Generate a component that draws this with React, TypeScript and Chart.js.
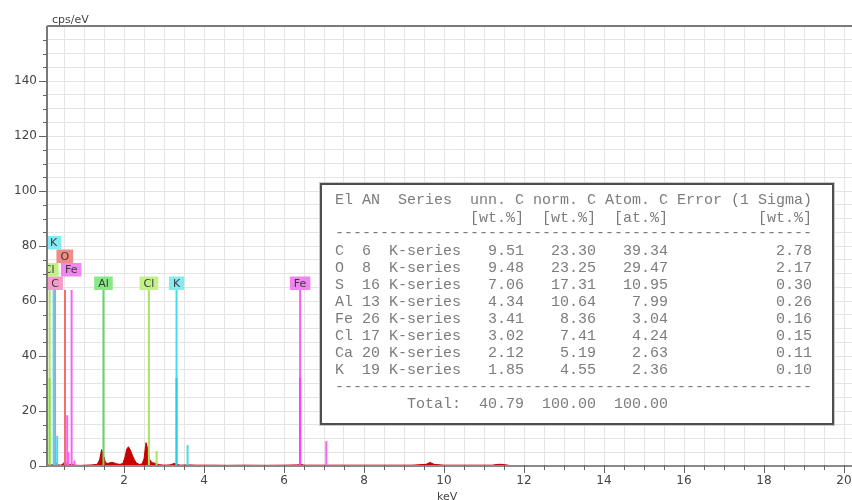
import React, { useEffect, useRef } from 'react';
import { Chart, registerables } from 'chart.js';
Chart.register(...registerables);

// ---- spectrum (keV vs cps/eV) ----
const SPEC_E = [0.075, 0.08, 0.095, 0.15, 0.22, 0.26, 0.29, 0.33, 0.42, 0.48, 0.52, 0.56, 0.62, 0.7, 0.78, 0.9, 1.05, 1.2, 1.33, 1.39, 1.44, 1.49, 1.54, 1.6, 1.66, 1.73, 1.8, 1.9, 1.97, 2.02, 2.07, 2.11, 2.16, 2.21, 2.26, 2.31, 2.38, 2.45, 2.5, 2.55, 2.6, 2.64, 2.7, 2.78, 2.88, 3.0, 3.15, 3.25, 3.31, 3.4, 3.6, 3.8, 4.2, 4.6, 5.0, 5.5, 6.0, 6.35, 6.42, 6.5, 7.0, 7.5, 8.0, 8.6, 9.2, 9.55, 9.65, 9.75, 10.0, 10.6, 11.2, 11.35, 11.45, 11.6, 11.7];
const SPEC_Y = [0, 5.2, 0.6, 0.3, 0.5, 1.2, 1.4, 0.5, 0.3, 0.8, 1.6, 0.9, 0.4, 0.7, 0.3, 0.2, 0.3, 0.4, 0.6, 2.2, 6.0, 3.6, 1.2, 0.9, 1.3, 1.3, 0.8, 0.6, 0.9, 3.0, 6.2, 7.0, 5.8, 3.9, 2.3, 1.1, 0.6, 0.7, 2.6, 8.5, 5.8, 2.4, 1.2, 1.0, 0.5, 0.3, 0.4, 0.9, 0.7, 0.3, 0.4, 0.3, 0.3, 0.25, 0.3, 0.25, 0.3, 0.4, 0.6, 0.3, 0.3, 0.3, 0.3, 0.3, 0.3, 0.6, 1.3, 0.6, 0.3, 0.3, 0.3, 0.6, 0.6, 0.3, 0];

// ---- element line markers ----
const MARKER_EL = ['Cl', 'K', 'C', 'K', 'O', 'Fe', 'Fe', 'Fe', 'Fe', 'Al', 'Cl', 'Cl', 'K', 'K', 'Fe', 'Fe'];
const MARKER_E = [0.14, 0.24, 0.277, 0.33, 0.525, 0.58, 0.61, 0.69, 0.76, 1.486, 2.622, 2.815, 3.313, 3.59, 6.403, 7.057];
const MARKER_H = [64, 64, 64, 11, 64, 18.5, 5, 64, 2, 64, 64, 5.5, 64, 7.6, 64, 9];
// stronger half-height overlays
const STRONG_EL = ['Cl', 'K', 'Fe'];
const STRONG_E = [0.14, 3.313, 6.403];
const STRONG_H = [32, 32, 32];

// ---- marker labels ----
const LABEL_TEXT = ['C', 'Cl', 'Fe', 'O', 'K', 'Al', 'Cl', 'K', 'Fe'];
const LABEL_E = [0.277, 0.13, 0.68, 0.52, 0.24, 1.486, 2.622, 3.313, 6.403];
const LABEL_ROW = [0, 1, 1, 2, 3, 0, 0, 0, 0];
const LABEL_BASE = 64;

// ---- axis ticks ----
const X_LABEL_STEP = 2;
const Y_LABEL_STEP = 20;

// ---- quantification table ----
const T_EL = ['C', 'O', 'S', 'Al', 'Fe', 'Cl', 'Ca', 'K'];
const T_AN = [6, 8, 16, 13, 26, 17, 20, 19];
const T_SERIES = ['K-series', 'K-series', 'K-series', 'K-series', 'K-series', 'K-series', 'K-series', 'K-series'];
const T_UNN = ['9.51', '9.48', '7.06', '4.34', '3.41', '3.02', '2.12', '1.85'];
const T_NORM = ['23.30', '23.25', '17.31', '10.64', '8.36', '7.41', '5.19', '4.55'];
const T_ATOM = ['39.34', '29.47', '10.95', '7.99', '3.04', '4.24', '2.63', '2.36'];
const T_ERR = ['2.78', '2.17', '0.30', '0.26', '0.16', '0.15', '0.11', '0.10'];
const T_TOTAL = ['40.79', '100.00', '100.00'];

const LINE_COLORS: Record<string, string> = {
  C: '#f27fba', O: '#f07070', Fe: '#f463f2', Al: '#62da62', Cl: '#a8e465', K: '#45dcec',
};
const STRONG_COLORS: Record<string, string> = { Cl: '#8fdc3c', K: '#22cfe6', Fe: '#ff3cff' };
const LABEL_BG: Record<string, string> = {
  C: '#f59cca', O: '#f28a86', Fe: '#f086f0', Al: '#86e886', Cl: '#c4f08a', K: '#86eaf2',
};

function buildTableLines(): string[] {
  const lines: string[] = [];
  lines.push('El AN  Series  unn. C norm. C Atom. C Error (1 Sigma)');
  lines.push(''.padEnd(15) + '[wt.%]' + '  ' + '[wt.%]' + '  ' + '[at.%]' + ''.padEnd(10) + '[wt.%]');
  lines.push('-'.repeat(53));
  for (let i = 0; i < T_EL.length; i++) {
    lines.push(
      T_EL[i].padEnd(3) + String(T_AN[i]).padEnd(3) + T_SERIES[i] +
      T_UNN[i].padStart(7) + T_NORM[i].padStart(8) + T_ATOM[i].padStart(8) + T_ERR[i].padStart(16)
    );
  }
  lines.push('-'.repeat(53));
  lines.push(''.padEnd(8) + 'Total:' + T_TOTAL[0].padStart(7) + T_TOTAL[1].padStart(8) + T_TOTAL[2].padStart(8));
  return lines;
}

const overlayPlugin = {
  id: 'edsOverlay',
  afterDraw(chart: any) {
    const ctx = chart.ctx as CanvasRenderingContext2D;
    const area = chart.chartArea;
    const xs = chart.scales.x;
    const ys = chart.scales.y;

    // element labels
    ctx.save();
    ctx.beginPath();
    ctx.rect(area.left, area.top, area.right - area.left, area.bottom - area.top);
    ctx.clip();
    ctx.font = '11px "DejaVu Sans"';
    ctx.textAlign = 'center';
    ctx.textBaseline = 'middle';
    const boxH = 13.5;
    const base = ys.getPixelForValue(LABEL_BASE);
    for (let i = 0; i < LABEL_TEXT.length; i++) {
      const cx = xs.getPixelForValue(LABEL_E[i]);
      const w = ctx.measureText(LABEL_TEXT[i]).width + 8;
      const bottom = base - LABEL_ROW[i] * boxH;
      ctx.fillStyle = LABEL_BG[LABEL_TEXT[i]];
      ctx.fillRect(cx - w / 2, bottom - boxH, w, boxH);
      ctx.fillStyle = '#3a3a3a';
      ctx.fillText(LABEL_TEXT[i], cx, bottom - boxH / 2 + 0.5);
    }
    ctx.restore();

    // axis frame lines
    ctx.save();
    ctx.strokeStyle = '#7a7a7a';
    ctx.lineWidth = 2;
    ctx.beginPath();
    ctx.moveTo(area.left, area.top);
    ctx.lineTo(area.right, area.top);
    ctx.moveTo(area.left, area.top);
    ctx.lineTo(area.left, area.bottom);
    ctx.stroke();
    ctx.strokeStyle = '#8a8a8a';
    ctx.beginPath();
    ctx.moveTo(area.left, area.bottom);
    ctx.lineTo(area.right, area.bottom);
    ctx.stroke();

    // tick marks
    ctx.strokeStyle = '#666';
    ctx.lineWidth = 1;
    ctx.beginPath();
    for (const t of ys.ticks) {
      const v = t.value;
      if (v <= 0 || v >= ys.max) continue;
      const y = Math.round(ys.getPixelForValue(v)) + 0.5;
      const len = v % Y_LABEL_STEP === 0 ? 8 : 4;
      ctx.moveTo(area.left - len, y);
      ctx.lineTo(area.left, y);
    }
    ctx.moveTo(area.left - 8, Math.round(ys.getPixelForValue(0)) + 0.5);
    ctx.lineTo(area.left, Math.round(ys.getPixelForValue(0)) + 0.5);
    for (const t of xs.ticks) {
      const v = t.value;
      const x = Math.round(xs.getPixelForValue(v)) + 0.5;
      const len = v % X_LABEL_STEP === 0 ? 7 : 4;
      ctx.moveTo(x, area.bottom - 1);
      ctx.lineTo(x, area.bottom + len);
    }
    ctx.stroke();

    // axis titles
    ctx.fillStyle = '#444';
    ctx.font = '11px "DejaVu Sans"';
    ctx.textAlign = 'left';
    ctx.textBaseline = 'alphabetic';
    ctx.fillText('cps/eV', area.left + 5, area.top - 3);
    ctx.textAlign = 'center';
    ctx.textBaseline = 'middle';
    ctx.fillText('keV', xs.getPixelForValue(10.08), 497);
    ctx.restore();

    // quantification table
    ctx.save();
    const bx = 321, by = 184, bw = 512, bh = 240;
    ctx.fillStyle = '#ffffff';
    ctx.fillRect(bx, by, bw, bh);
    ctx.strokeStyle = '#c8c8c8';
    ctx.lineWidth = 1;
    ctx.strokeRect(bx - 1.5, by - 1.5, bw + 3, bh + 3);
    ctx.strokeStyle = '#4e4e4e';
    ctx.lineWidth = 2;
    ctx.strokeRect(bx, by, bw, bh);
    ctx.fillStyle = '#7c7c7c';
    ctx.font = '15px "Liberation Mono"';
    ctx.textAlign = 'left';
    ctx.textBaseline = 'middle';
    const lines = buildTableLines();
    const ysPos = [200.5, 218, 233.5];
    for (let i = 0; i < T_EL.length; i++) ysPos.push(251 + 17 * i);
    ysPos.push(387, 404);
    lines.forEach((ln, i) => ctx.fillText(ln, 335, ysPos[i]));
    ctx.restore();
  },
};

export default function App() {
  const ref = useRef<HTMLCanvasElement | null>(null);
  useEffect(() => {
    document.body.style.margin = '0';
    document.body.style.overflow = 'hidden';
    if (!ref.current) return;

    const markerSets: any[] = [];
    const groups = Array.from(new Set(MARKER_EL));
    Array.from(new Set(STRONG_EL)).forEach((el) => {
      const pts: any[] = [];
      STRONG_EL.forEach((m, i) => {
        if (m === el) pts.push({ x: STRONG_E[i], y: 0 }, { x: STRONG_E[i], y: STRONG_H[i] }, { x: STRONG_E[i], y: null });
      });
      markerSets.push({ data: pts, borderColor: STRONG_COLORS[el], borderWidth: 2, pointRadius: 0, spanGaps: false, fill: false });
    });
    groups.forEach((el) => {
      const pts: any[] = [];
      MARKER_EL.forEach((m, i) => {
        if (m === el) pts.push({ x: MARKER_E[i], y: 0 }, { x: MARKER_E[i], y: MARKER_H[i] }, { x: MARKER_E[i], y: null });
      });
      markerSets.push({ data: pts, borderColor: LINE_COLORS[el], borderWidth: 2, pointRadius: 0, spanGaps: false, fill: false });
    });

    const chart = new Chart(ref.current, {
      type: 'line',
      data: {
        datasets: [
          ...markerSets,
          {
            data: SPEC_E.map((e, i) => ({ x: e, y: SPEC_Y[i] })),
            borderColor: '#c40000',
            backgroundColor: '#c80000',
            borderWidth: 1,
            pointRadius: 0,
            fill: 'origin',
            tension: 0,
          },
        ],
      },
      options: {
        animation: false,
        responsive: false,
        maintainAspectRatio: false,
        events: [],
        layout: { padding: { left: 0, top: 26, right: 0, bottom: 0 } },
        plugins: { legend: { display: false }, tooltip: { enabled: false } },
        scales: {
          x: {
            type: 'linear',
            min: 0.075,
            max: 20.2,
            afterFit: (s: any) => { s.height = 34; s.paddingLeft = 0; s.paddingRight = 0; },
            ticks: {
              stepSize: 0.5,
              autoSkip: false,
              includeBounds: false,
              maxRotation: 0,
              padding: 8,
              color: '#444',
              font: { family: 'DejaVu Sans', size: 12 },
              callback: (v: any) => (Number(v) % X_LABEL_STEP === 0 ? String(v) : ''),
            },
            grid: { color: '#e4e4e4', drawTicks: false, lineWidth: 1 },
            border: { display: false },
          },
          y: {
            type: 'linear',
            min: 0,
            max: 160,
            afterFit: (s: any) => { s.width = 47; s.paddingTop = 0; s.paddingBottom = 0; },
            ticks: {
              stepSize: 5,
              autoSkip: false,
              padding: 10,
              color: '#444',
              font: { family: 'DejaVu Sans', size: 12 },
              callback: (v: any) => (Number(v) % Y_LABEL_STEP === 0 && Number(v) < 160 ? String(v) : ''),
            },
            grid: { color: '#e4e4e4', drawTicks: false, lineWidth: 1 },
            border: { display: false },
          },
        },
      },
      plugins: [overlayPlugin],
    });
    return () => chart.destroy();
  }, []);

  return (
    <div style={{ width: 852, height: 500, position: 'relative', background: '#fff' }}>
      <canvas ref={ref} width={852} height={500} style={{ display: 'block', width: 852, height: 500 }} />
    </div>
  );
}
